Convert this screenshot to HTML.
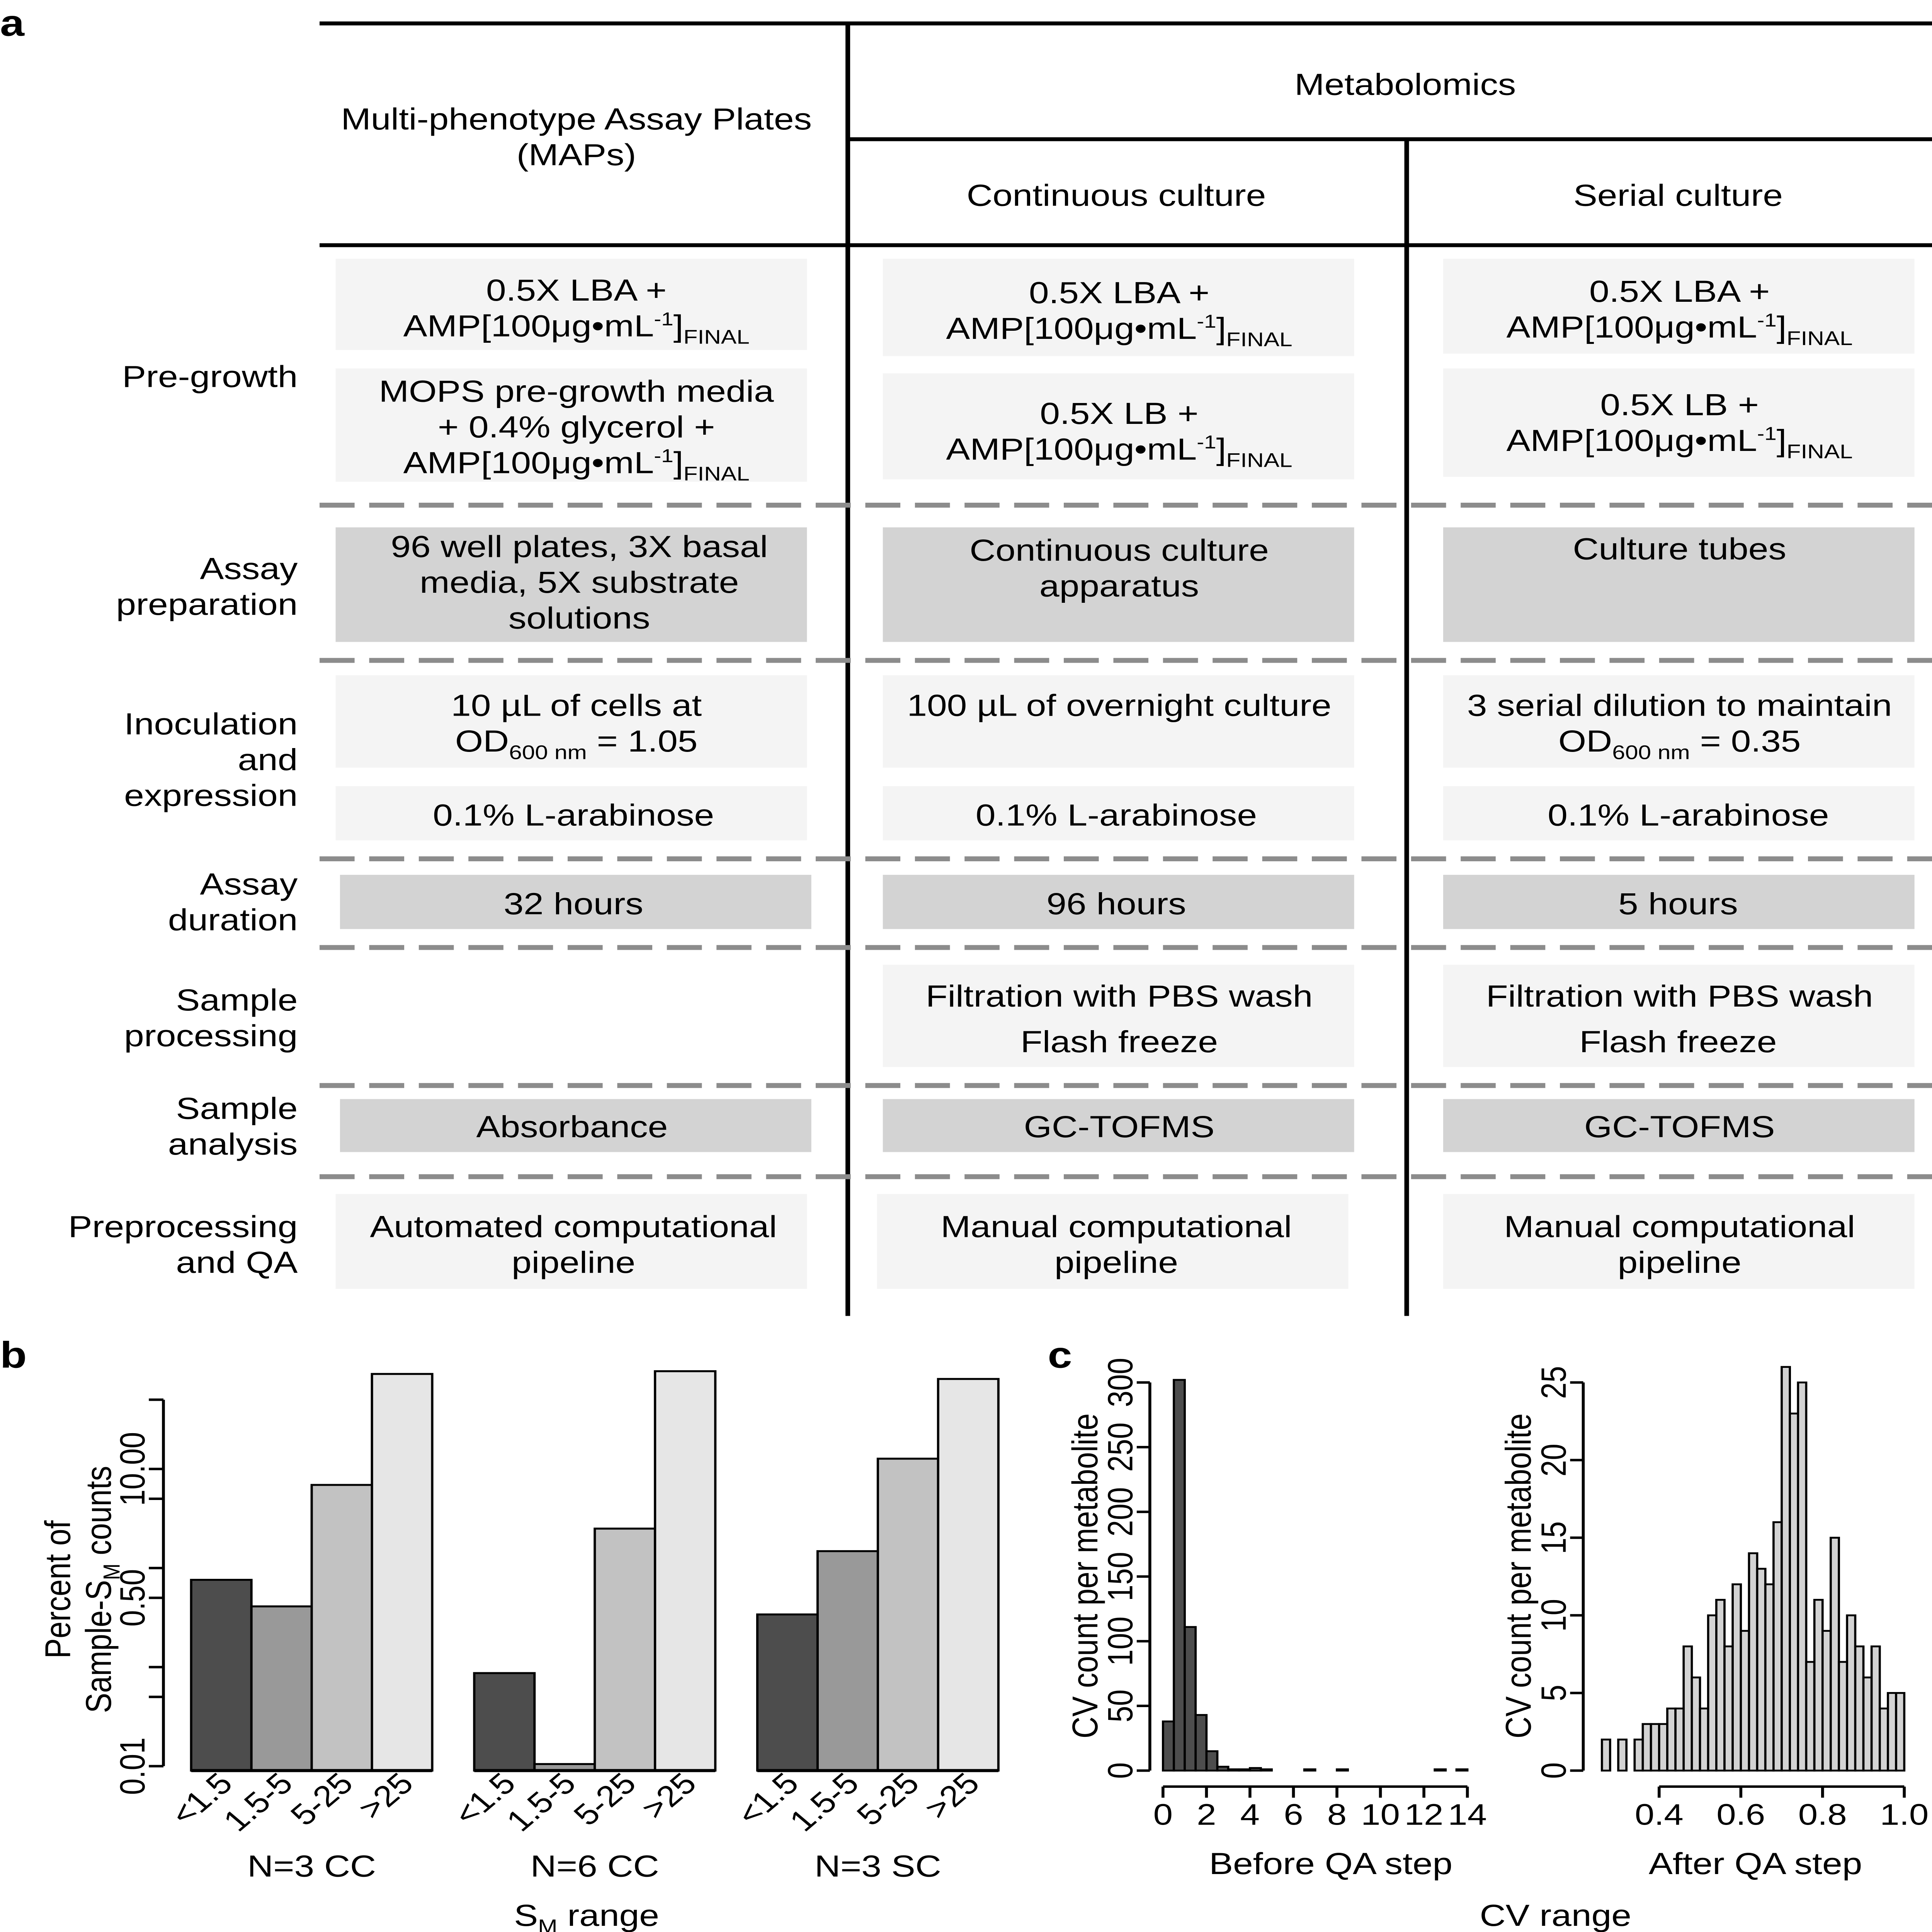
<!DOCTYPE html>
<html><head><meta charset="utf-8">
<style>
html,body{margin:0;padding:0;background:#fff;width:100vw;height:100vh;overflow:hidden;}
svg{display:block;width:100vw;height:100vh;}
text{font-family:"Liberation Sans",Arial,sans-serif;fill:#000;}
</style></head>
<body>
<svg id="fig" xmlns="http://www.w3.org/2000/svg" viewBox="0 0 1324 1568" preserveAspectRatio="none">
<rect x="0" y="0" width="1324" height="1568" fill="#fff"/>
<g id="panelA" font-size="24.6" text-anchor="middle">
  <text x="0" y="29" font-size="30" font-weight="bold" text-anchor="start">a</text>
  <g>
    <rect x="230" y="210" width="323" height="74" fill="#f4f4f4"/>
    <rect x="230" y="299" width="323" height="92" fill="#f4f4f4"/>
    <rect x="605" y="210" width="323" height="79" fill="#f4f4f4"/>
    <rect x="605" y="303" width="323" height="86" fill="#f4f4f4"/>
    <rect x="989" y="210" width="323" height="77" fill="#f4f4f4"/>
    <rect x="989" y="299" width="323" height="88" fill="#f4f4f4"/>
    <rect x="230" y="428" width="323" height="93" fill="#d3d3d3"/>
    <rect x="605" y="428" width="323" height="93" fill="#d3d3d3"/>
    <rect x="989" y="428" width="323" height="93" fill="#d3d3d3"/>
    <rect x="230" y="548" width="323" height="75" fill="#f4f4f4"/>
    <rect x="605" y="548" width="323" height="75" fill="#f4f4f4"/>
    <rect x="989" y="548" width="323" height="75" fill="#f4f4f4"/>
    <rect x="230" y="638" width="323" height="44" fill="#f4f4f4"/>
    <rect x="605" y="638" width="323" height="44" fill="#f4f4f4"/>
    <rect x="989" y="638" width="323" height="44" fill="#f4f4f4"/>
    <rect x="233" y="710" width="323" height="44" fill="#d3d3d3"/>
    <rect x="605" y="710" width="323" height="44" fill="#d3d3d3"/>
    <rect x="989" y="710" width="323" height="44" fill="#d3d3d3"/>
    <rect x="605" y="783" width="323" height="83" fill="#f4f4f4"/>
    <rect x="989" y="783" width="323" height="83" fill="#f4f4f4"/>
    <rect x="233" y="892" width="323" height="43" fill="#d3d3d3"/>
    <rect x="605" y="892" width="323" height="43" fill="#d3d3d3"/>
    <rect x="989" y="892" width="323" height="43" fill="#d3d3d3"/>
    <rect x="230" y="969" width="323" height="77" fill="#f4f4f4"/>
    <rect x="601" y="969" width="323" height="77" fill="#f4f4f4"/>
    <rect x="989" y="969" width="323" height="77" fill="#f4f4f4"/>
  </g>
  <g stroke="#000" stroke-width="3.2">
    <line x1="219" y1="19" x2="1324" y2="19"/>
    <line x1="581" y1="19" x2="581" y2="1068"/>
    <line x1="581" y1="113" x2="1324" y2="113"/>
    <line x1="964" y1="113" x2="964" y2="1068"/>
    <line x1="219" y1="199" x2="1324" y2="199"/>
  </g>
  <g stroke="#8c8c8c" stroke-width="4" stroke-dasharray="24 10">
    <line x1="219" y1="410" x2="1324" y2="410"/>
    <line x1="219" y1="536" x2="1324" y2="536"/>
    <line x1="219" y1="697" x2="1324" y2="697"/>
    <line x1="219" y1="769" x2="1324" y2="769"/>
    <line x1="219" y1="881" x2="1324" y2="881"/>
    <line x1="219" y1="955" x2="1324" y2="955"/>
  </g>
  <text x="395" y="105">Multi-phenotype Assay Plates</text>
  <text x="395" y="134">(MAPs)</text>
  <text x="963" y="77">Metabolomics</text>
  <text x="765" y="167">Continuous culture</text>
  <text x="1150" y="167">Serial culture</text>
  <g text-anchor="end">
    <text x="204" y="314">Pre-growth</text>
    <text x="204" y="470">Assay</text><text x="204" y="499">preparation</text>
    <text x="204" y="596">Inoculation</text><text x="204" y="625">and</text><text x="204" y="654">expression</text>
    <text x="204" y="726">Assay</text><text x="204" y="755">duration</text>
    <text x="204" y="820">Sample</text><text x="204" y="849">processing</text>
    <text x="204" y="908">Sample</text><text x="204" y="937">analysis</text>
    <text x="204" y="1004">Preprocessing</text><text x="204" y="1033">and QA</text>
  </g>
  <g>
    <text x="395" y="244">0.5X LBA +</text>
    <text x="395" y="273">AMP[100μg•mL<tspan font-size="15" dy="-9">-1</tspan><tspan dy="9">]</tspan><tspan font-size="16" dy="6">FINAL</tspan></text>
    <text x="395" y="326">MOPS pre-growth media</text>
    <text x="395" y="355">+ 0.4% glycerol +</text>
    <text x="395" y="384">AMP[100μg•mL<tspan font-size="15" dy="-9">-1</tspan><tspan dy="9">]</tspan><tspan font-size="16" dy="6">FINAL</tspan></text>
    <text x="767" y="246">0.5X LBA +</text>
    <text x="767" y="275">AMP[100μg•mL<tspan font-size="15" dy="-9">-1</tspan><tspan dy="9">]</tspan><tspan font-size="16" dy="6">FINAL</tspan></text>
    <text x="767" y="344">0.5X LB +</text>
    <text x="767" y="373">AMP[100μg•mL<tspan font-size="15" dy="-9">-1</tspan><tspan dy="9">]</tspan><tspan font-size="16" dy="6">FINAL</tspan></text>
    <text x="1151" y="245">0.5X LBA +</text>
    <text x="1151" y="274">AMP[100μg•mL<tspan font-size="15" dy="-9">-1</tspan><tspan dy="9">]</tspan><tspan font-size="16" dy="6">FINAL</tspan></text>
    <text x="1151" y="337">0.5X LB +</text>
    <text x="1151" y="366">AMP[100μg•mL<tspan font-size="15" dy="-9">-1</tspan><tspan dy="9">]</tspan><tspan font-size="16" dy="6">FINAL</tspan></text>
    <text x="397" y="452">96 well plates, 3X basal</text>
    <text x="397" y="481">media, 5X substrate</text>
    <text x="397" y="510">solutions</text>
    <text x="767" y="455">Continuous culture</text>
    <text x="767" y="484">apparatus</text>
    <text x="1151" y="454">Culture tubes</text>
    <text x="395" y="581">10 µL of cells at</text>
    <text x="395" y="610">OD<tspan font-size="16" dy="6">600 nm</tspan><tspan dy="-6"> = 1.05</tspan></text>
    <text x="767" y="581">100 µL of overnight culture</text>
    <text x="1151" y="581">3 serial dilution to maintain</text>
    <text x="1151" y="610">OD<tspan font-size="16" dy="6">600 nm</tspan><tspan dy="-6"> = 0.35</tspan></text>
    <text x="393" y="670">0.1% L-arabinose</text>
    <text x="765" y="670">0.1% L-arabinose</text>
    <text x="1157" y="670">0.1% L-arabinose</text>
    <text x="393" y="742">32 hours</text>
    <text x="765" y="742">96 hours</text>
    <text x="1150" y="742">5 hours</text>
    <text x="767" y="817">Filtration with PBS wash</text>
    <text x="767" y="854">Flash freeze</text>
    <text x="1151" y="817">Filtration with PBS wash</text>
    <text x="1150" y="854">Flash freeze</text>
    <text x="392" y="923">Absorbance</text>
    <text x="767" y="923">GC-TOFMS</text>
    <text x="1151" y="923">GC-TOFMS</text>
    <text x="393" y="1004">Automated computational</text>
    <text x="393" y="1033">pipeline</text>
    <text x="765" y="1004">Manual computational</text>
    <text x="765" y="1033">pipeline</text>
    <text x="1151" y="1004">Manual computational</text>
    <text x="1151" y="1033">pipeline</text>
  </g>
</g>
<g id="panelB"></g>
<g id="panelC1"></g>
<g id="panelC2"></g>
</svg>
<script>
const NS="http://www.w3.org/2000/svg";
// ---- Panel b data ----
const bCategories=["<1.5","1.5-5","5-25",">25"];
const bGroups=["N=3 CC","N=6 CC","N=3 SC"];
const bGroup1=[0.76,0.41,6.9,91];
const bGroup2=[0.087,0.0105,2.5,97];
const bGroup3=[0.34,1.48,12.7,81];
const bTickValues=[0.01,0.05,0.1,0.5,1,5,10,50];
const bTickLabels=["0.01","","","0.50","","","10.00",""];
// ---- Panel c data ----
const beforeCounts=[38,302,111,43,15,3,1,1,2,1,0,0,0,1,0,0,1,0,0,0,0,0,0,0,0,1,0,1];
const beforeXTicks=[0,2,4,6,8,10,12,14];
const beforeYTicks=[0,50,100,150,200,250,300];
const afterCounts=[2,0,2,0,2,3,3,3,4,4,8,6,4,10,11,8,12,9,14,13,12,16,26,23,25,7,11,9,15,7,10,8,6,8,4,5,5];
const afterXTicks=[0.4,0.6,0.8,1.0];
const afterXLabels=["0.4","0.6","0.8","1.0"];
const afterYTicks=[0,5,10,15,20,25];

const FS=24.6, TFS=24;
function mk(parent,tag,attrs,txt){const e=document.createElementNS(NS,tag);for(const k in attrs)e.setAttribute(k,attrs[k]);if(txt!==undefined)e.textContent=txt;parent.appendChild(e);return e;}

(function(){
  const g=document.getElementById('panelB');
  const base=1437, y0=1433.4, dec=80.4;
  const yS=v=>y0-(Math.log10(v)+2)*dec;
  const colors=["#4d4d4d","#999999","#c2c2c2","#e6e6e6"];
  const groupLeft=[131,325,519], bw=41.3;
  const data=[bGroup1,bGroup2,bGroup3];
  const lbl=mk(g,'text',{x:0,y:1110,'font-size':30,'font-weight':'bold'},'b');
  
  
  const ax=mk(g,'line',{x1:112,y1:yS(50),x2:112,y2:yS(0.01),stroke:'#000','stroke-width':2});
  
  
  bTickValues.forEach((v,i)=>{
    const t=mk(g,'line',{x1:102,y1:yS(v),x2:112,y2:yS(v),stroke:'#000','stroke-width':2});
    
    
    if(bTickLabels[i]){
      const tl=mk(g,'text',{x:0,y:0,'font-size':TFS,'text-anchor':'middle',transform:`translate(99,${yS(v)}) rotate(-90)`},bTickLabels[i]);
      
      
    }
  });
  data.forEach((vals,gi)=>{
    vals.forEach((v,ci)=>{
      const x=groupLeft[gi]+ci*bw, top=yS(v);
      const r=mk(g,'rect',{x:x,y:top,width:bw,height:base-top,fill:colors[ci],stroke:'#000','stroke-width':1.6});
      
      
      const t=mk(g,'text',{x:0,y:0,'font-size':TFS,'text-anchor':'end',transform:`translate(${x+bw/2+9},${base+12}) rotate(-45)`},bCategories[ci]);
      
      
    });
    const bl=mk(g,'line',{x1:groupLeft[gi],y1:base,x2:groupLeft[gi]+4*bw,y2:base,stroke:'#000','stroke-width':2.5});
    
    
    const gl=mk(g,'text',{x:groupLeft[gi]+2*bw,y:1523,'font-size':FS,'text-anchor':'middle'},bGroups[gi]);
    
    
  });
  const t1=mk(g,'text',{x:0,y:0,'font-size':FS,'text-anchor':'middle',transform:'translate(48,1290) rotate(-90)'},'Percent of');
  
  
  const t2=mk(g,'text',{x:0,y:0,'font-size':FS,'text-anchor':'middle',transform:'translate(76,1290) rotate(-90)'});
  t2.innerHTML='Sample-S<tspan font-size="16" dy="6">M</tspan><tspan dy="-6"> counts</tspan>';
  
  
  const xt=mk(g,'text',{x:402,y:1563,'font-size':FS,'text-anchor':'middle'});
  xt.innerHTML='S<tspan font-size="16" dy="6">M</tspan><tspan dy="-6"> range</tspan>';
  
  
})();

function hist(gid,counts,binStart,binW,xS,yS,fill,xTicks,xLabels,yTicks,yAxisX,xAxisY,title,titleX,yTitleX,xMin,xMax){
  const g=document.getElementById(gid);
  counts.forEach((c,i)=>{
    if(c<=0) return;
    const x0=xS(binStart+i*binW), x1=xS(binStart+(i+1)*binW), top=yS(c);
    const r=mk(g,'rect',{x:x0,y:top,width:x1-x0,height:yS(0)-top,fill:fill,stroke:'#000','stroke-width':1.5});
    
    
  });
  const ya=mk(g,'line',{x1:yAxisX,y1:yS(yTicks[yTicks.length-1]),x2:yAxisX,y2:yS(0),stroke:'#000','stroke-width':2});
  
  
  yTicks.forEach(v=>{
    const t=mk(g,'line',{x1:yAxisX-9,y1:yS(v),x2:yAxisX,y2:yS(v),stroke:'#000','stroke-width':2});
    
    
    const tl=mk(g,'text',{x:0,y:0,'font-size':TFS,'text-anchor':'middle',transform:`translate(${yAxisX-12},${yS(v)}) rotate(-90)`},String(v));
    
    
  });
  const xa=mk(g,'line',{x1:xS(xMin),y1:xAxisY,x2:xS(xMax),y2:xAxisY,stroke:'#000','stroke-width':2});
  
  
  xTicks.forEach((v,i)=>{
    const t=mk(g,'line',{x1:xS(v),y1:xAxisY,x2:xS(v),y2:xAxisY+9,stroke:'#000','stroke-width':2});
    
    
    const tl=mk(g,'text',{x:xS(v),y:xAxisY+31,'font-size':TFS,'text-anchor':'middle'},xLabels[i]);
    
    
  });
  const yt=mk(g,'text',{x:0,y:0,'font-size':FS,'text-anchor':'middle',transform:`translate(${yTitleX},1279) rotate(-90)`},'CV count per metabolite');
  
  
  const xt=mk(g,'text',{x:titleX,y:1521,'font-size':FS,'text-anchor':'middle'},title);
  
  
}
hist('panelC1',beforeCounts,0,0.5,v=>797+v*14.9,v=>1437-v*(315/300),'#4d4d4d',
  beforeXTicks,beforeXTicks.map(String),beforeYTicks,788,1450,'Before QA step',912,752,0,14);
hist('panelC2',afterCounts,0.26,0.02,v=>1137+(v-0.4)*280,v=>1437-v*(315/25),'#d3d3d3',
  afterXTicks,afterXLabels,afterYTicks,1085,1450,'After QA step',1203,1049,0.4,1.0);
(function(){
  const g=document.getElementById('panelC1');
  const c=mk(g,'text',{x:718,y:1110,'font-size':30,'font-weight':'bold'},'c');
  
  
  const r=mk(g,'text',{x:1066,y:1563,'font-size':FS,'text-anchor':'middle'},'CV range');
  
  
})();
</script>
</body></html>
